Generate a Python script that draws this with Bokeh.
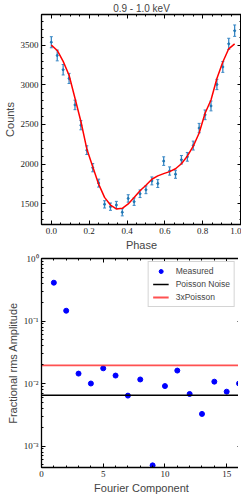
from bokeh.plotting import figure
from bokeh.layouts import column
from bokeh.models import (Range1d, ColumnDataSource, Whisker, TeeHead, LinearAxis,
                          FixedTicker, CustomJSTickFormatter)
from bokeh.embed import file_html
from bokeh.resources import INLINE

# ---------------- data ----------------
title_text = "0.9 - 1.0 keV"
phase = [i / 32 for i in range(32)]
counts = [3537, 3370, 3190, 3080, 2746, 2490, 2175, 1954, 1759, 1491, 1462, 1483,
          1391, 1566, 1525, 1625, 1675, 1787, 1754, 2037, 1912, 1871, 2054, 2091,
          2233, 2454, 2621, 2733, 3004, 3225, 3517, 3683]
count_err = [70, 68, 66, 64, 60, 58, 55, 52, 50, 46, 46, 46,
             45, 47, 47, 48, 49, 50, 50, 54, 52, 51, 54, 55,
             56, 59, 61, 62, 65, 68, 70, 72]
model = [3500, 3433, 3296, 3121, 2830, 2537, 2191, 1966, 1746, 1579, 1483, 1433,
         1441, 1496, 1579, 1662, 1733, 1808, 1850, 1879, 1904, 1941, 2004, 2100,
         2225, 2391, 2641, 2808, 3079, 3287, 3454, 3517]

harmonic = list(range(1, 17))
frac_rms = [0.41, 0.146, 0.0144, 0.0100, 0.0175, 0.0134, 0.0064, 0.0116,
            0.00049, 0.0091, 0.0161, 0.0068, 0.00326, 0.0107, 0.0074, 0.0100]
poisson_level = 0.0065
poisson3_level = 0.0195

phase_ticks = [0.0, 0.2, 0.4, 0.6, 0.8, 1.0]
count_ticks = [1500, 2000, 2500, 3000, 3500]
harm_ticks = [0, 5, 10, 15]
log_major = [1e-3, 1e-2, 1e-1, 1.0]

SERIF = "Liberation Serif"
SANS = "Liberation Sans"

def style_axis(ax, labels=True):
    ax.major_tick_in = 4
    ax.major_tick_out = 0
    ax.minor_tick_in = 2
    ax.minor_tick_out = 0
    ax.axis_line_color = "black"
    ax.axis_line_width = 1.3
    ax.major_tick_line_color = "black"
    ax.minor_tick_line_color = "black"
    ax.major_label_text_font = SERIF
    ax.major_label_text_font_size = "9px"
    ax.major_label_text_color = "#222222"
    ax.major_label_standoff = 3
    ax.axis_label_text_font = SANS
    ax.axis_label_text_font_size = "11px"
    ax.axis_label_text_font_style = "normal"
    ax.axis_label_standoff = 2
    if not labels:
        ax.formatter = CustomJSTickFormatter(code="return '';")
        ax.major_label_standoff = 0

# ---------------- top panel ----------------
p1 = figure(frame_width=200, frame_height=210, output_backend="svg", toolbar_location=None,
            x_range=Range1d(-0.052, 1.005), y_range=Range1d(1237, 3887),
            min_border_left=0, min_border_right=0, min_border_top=0, min_border_bottom=0)
p1.title.text = title_text
p1.title.text_font = SANS
p1.title.text_font_size = "10px"
p1.title.text_font_style = "normal"
p1.title.align = "center"
p1.title.standoff = 1
p1.grid.visible = False
p1.outline_line_color = "black"

src = ColumnDataSource(dict(x=phase, y=counts,
                            lo=[c - e for c, e in zip(counts, count_err)],
                            hi=[c + e for c, e in zip(counts, count_err)]))
w = Whisker(source=src, base="x", upper="hi", lower="lo", line_color="#3a88c5", line_width=1.3,
            upper_head=TeeHead(size=3, line_color="#3a88c5", line_width=1),
            lower_head=TeeHead(size=3, line_color="#3a88c5", line_width=1))
p1.add_layout(w)
p1.scatter("x", "y", source=src, size=2, color="#1f77b4")
p1.line(phase, model, line_color="red", line_width=1.5)

p1.xaxis.ticker = FixedTicker(ticks=phase_ticks,
                              minor_ticks=[i * 0.05 - 0.05 for i in range(23)])
p1.yaxis.ticker = FixedTicker(ticks=count_ticks,
                              minor_ticks=list(range(1200, 3900, 100)))
p1.xaxis.formatter = CustomJSTickFormatter(code="return tick.toFixed(1);")
p1.xaxis.axis_label = "Phase"
p1.yaxis.axis_label = "Counts"
style_axis(p1.xaxis[0])
style_axis(p1.yaxis[0])
ax_top = LinearAxis(ticker=p1.xaxis[0].ticker)
ax_right = LinearAxis(ticker=p1.yaxis[0].ticker)
style_axis(ax_top, labels=False)
style_axis(ax_right, labels=False)
p1.add_layout(ax_top, "above")
p1.add_layout(ax_right, "right")

# ---------------- bottom panel ----------------
p2 = figure(frame_width=200, frame_height=209, output_backend="svg", toolbar_location=None,
            x_range=Range1d(0, 16.2), y_range=Range1d(4.53e-4, 1.0), y_axis_type="log",
            min_border_left=0, min_border_right=0, min_border_top=5, min_border_bottom=0)
p2.grid.visible = False
p2.outline_line_color = "black"

xr = [p2.x_range.start - 1, p2.x_range.end + 1]
p2.scatter(harmonic, frac_rms, size=5, color="blue", legend_label="Measured")
p2.line(xr, [poisson_level, poisson_level], line_color="black", line_width=1.5,
        legend_label="Poisson Noise")
p2.line(xr, [poisson3_level, poisson3_level], line_color="#ff3333", line_alpha=0.85,
        line_width=1.8, legend_label="3xPoisson")

p2.xaxis.ticker = FixedTicker(ticks=harm_ticks, minor_ticks=list(range(0, 17)))
log_minor = [m * 10.0 ** e for e in (-4, -3, -2, -1) for m in range(2, 10)]
p2.yaxis.ticker = FixedTicker(ticks=log_major, minor_ticks=log_minor)
p2.yaxis.formatter = CustomJSTickFormatter(code="""
const e = Math.round(Math.log10(tick));
const sup = {'-':'\\u207b','0':'\\u2070','1':'\\u00b9','2':'\\u00b2','3':'\\u00b3'};
return '10' + String(e).split('').map(c => sup[c]).join('');
""")
p2.xaxis.axis_label = "Fourier Component"
p2.yaxis.axis_label = "Fractional rms Amplitude"
style_axis(p2.xaxis[0])
style_axis(p2.yaxis[0])
ax_top2 = LinearAxis(ticker=p2.xaxis[0].ticker)
style_axis(ax_top2, labels=False)
p2.add_layout(ax_top2, "above")
ax_right2 = p2.yaxis[0].__class__(ticker=p2.yaxis[0].ticker)
style_axis(ax_right2, labels=False)
p2.add_layout(ax_right2, "right")

lg = p2.legend[0]
lg.location = "top_right"
lg.label_text_font = SANS
lg.label_text_font_size = "8.5px"
lg.label_height = 10
lg.glyph_height = 10
lg.glyph_width = 16
lg.label_standoff = 7
lg.spacing = 3
lg.padding = 4
lg.margin = 3
lg.border_line_color = "#aaaaaa"
lg.border_line_width = 1
lg.background_fill_alpha = 1.0

layout = column(p1, p2, spacing=0)
open("out.html", "w").write(file_html(layout, INLINE))
